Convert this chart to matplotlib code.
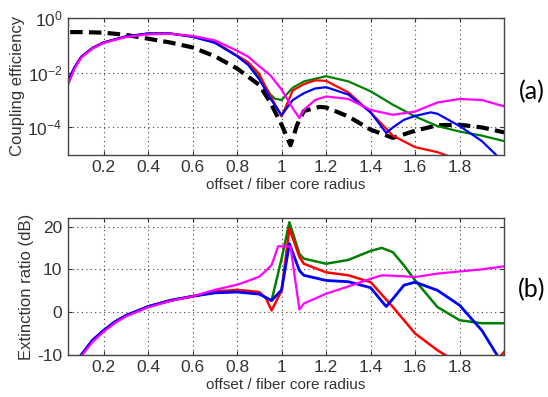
import matplotlib.pyplot as plt
import numpy as np

plt.rcParams['font.family'] = ['Liberation Sans', 'DejaVu Sans']
plt.rcParams['axes.unicode_minus'] = False
plt.rcParams['mathtext.default'] = 'regular'

# (a) coupling efficiency, stored as log10 values
x_blue_a = [0.04, 0.07, 0.1, 0.15, 0.2, 0.3, 0.4, 0.5, 0.6, 0.7, 0.8, 0.85, 0.9, 0.95, 1.0,
            1.05, 1.1, 1.15, 1.2, 1.3, 1.4, 1.47, 1.5, 1.55, 1.6, 1.67, 1.7, 1.8, 1.9, 1.97]
log_blue_a = [-2.3, -1.8, -1.42, -1.1, -0.9, -0.68, -0.57, -0.57, -0.69, -0.91, -1.4, -1.72, -2.25, -2.95, -3.55,
              -3.0, -2.75, -2.58, -2.53, -2.8, -3.45, -4.2, -4.0, -3.72, -3.58, -3.45, -3.5, -3.95, -4.5, -5.05]

x_red_a = [0.04, 0.07, 0.1, 0.15, 0.2, 0.3, 0.4, 0.5, 0.6, 0.7, 0.8, 0.85, 0.9, 0.93, 0.97, 1.0,
           1.05, 1.1, 1.15, 1.2, 1.3, 1.4, 1.5, 1.6, 1.7, 1.75]
log_red_a = [-2.3, -1.8, -1.42, -1.1, -0.9, -0.68, -0.58, -0.58, -0.68, -0.88, -1.38, -1.62, -2.05, -2.55, -3.15, -3.6,
             -2.65, -2.42, -2.28, -2.3, -2.72, -3.45, -4.3, -4.72, -4.9, -5.05]

x_green_a = [0.04, 0.07, 0.1, 0.15, 0.2, 0.3, 0.4, 0.5, 0.6, 0.7, 0.8, 0.85, 0.9, 0.95, 0.97, 1.0,
             1.05, 1.1, 1.2, 1.3, 1.4, 1.5, 1.6, 1.7, 1.8, 1.9, 2.0]
log_green_a = [-2.3, -1.8, -1.42, -1.1, -0.9, -0.68, -0.57, -0.57, -0.69, -0.9, -1.38, -1.65, -2.15, -2.8, -2.95, -3.0,
               -2.55, -2.32, -2.13, -2.32, -2.68, -3.17, -3.6, -3.95, -4.15, -4.3, -4.5]

x_mag_a = [0.04, 0.07, 0.1, 0.15, 0.2, 0.3, 0.4, 0.5, 0.6, 0.7, 0.8, 0.85, 0.9, 0.95, 1.0,
           1.05, 1.08, 1.1, 1.15, 1.2, 1.3, 1.4, 1.5, 1.6, 1.7, 1.8, 1.9, 2.0]
log_mag_a = [-2.45, -1.85, -1.45, -1.12, -0.92, -0.7, -0.6, -0.58, -0.66, -0.82, -1.2, -1.42, -1.77, -2.1, -2.62,
             -3.3, -3.66, -3.36, -3.0, -2.87, -2.96, -3.36, -3.54, -3.42, -3.09, -2.96, -3.0, -3.23]

x_black_a = [0.05, 0.1, 0.2, 0.3, 0.4, 0.5, 0.6, 0.7, 0.8, 0.85, 0.9, 0.95, 1.0, 1.04, 1.07, 1.1,
             1.17, 1.2, 1.3, 1.4, 1.5, 1.6, 1.7, 1.8, 1.9, 2.0]
log_black_a = [-0.52, -0.52, -0.54, -0.62, -0.76, -0.9, -1.08, -1.4, -1.85, -2.15, -2.45, -3.1, -3.9, -4.65, -3.9, -3.4,
               -3.25, -3.27, -3.6, -4.08, -4.38, -4.12, -3.92, -3.9, -4.0, -4.18]

# (b) extinction ratio in dB
x_blue_b = [0.1, 0.15, 0.2, 0.25, 0.3, 0.4, 0.5, 0.6, 0.7, 0.8, 0.9, 0.955, 1.0, 1.035, 1.08, 1.1, 1.2,
            1.3, 1.4, 1.47, 1.5, 1.55, 1.6, 1.7, 1.8, 1.9, 1.97]
er_blue_b = [-10, -6.6, -4.3, -2.3, -0.8, 1.3, 2.7, 3.7, 4.5, 4.7, 4.2, 2.7, 5.2, 16.0, 9.7, 8.6, 7.4,
             7.1, 5.7, 1.3, 3.1, 6.3, 7.0, 5.1, 1.6, -4.3, -10.2]

x_red_b = [0.1, 0.15, 0.2, 0.25, 0.3, 0.4, 0.5, 0.6, 0.7, 0.8, 0.9, 0.93, 0.955, 1.0, 1.035, 1.08, 1.1,
           1.2, 1.3, 1.4, 1.5, 1.6, 1.7, 1.75, 1.98, 2.0]
er_red_b = [-10, -6.6, -4.3, -2.3, -0.8, 1.3, 2.7, 3.7, 4.8, 5.2, 4.7, 3.2, 0.4, 5.0, 19.5, 12.9, 11.3,
            9.3, 8.6, 7.0, 1.2, -5.0, -8.9, -10.5, -10.5, -9.3]

x_green_b = [0.1, 0.15, 0.2, 0.25, 0.3, 0.4, 0.5, 0.6, 0.7, 0.8, 0.9, 0.955, 1.0, 1.035, 1.08, 1.1, 1.2,
             1.3, 1.4, 1.45, 1.5, 1.55, 1.6, 1.7, 1.8, 1.9, 2.0]
er_green_b = [-10, -6.6, -4.3, -2.3, -0.8, 1.3, 2.8, 3.7, 4.6, 4.8, 4.3, 2.7, 12.5, 21.0, 13.6, 12.5, 11.3,
              12.2, 14.3, 15.0, 14.0, 10.9, 7.4, 1.2, -1.9, -2.6, -2.6]

x_mag_b = [0.105, 0.15, 0.2, 0.25, 0.3, 0.4, 0.5, 0.6, 0.7, 0.8, 0.85, 0.9, 0.93, 0.955, 0.985, 1.04, 1.08,
           1.1, 1.2, 1.3, 1.4, 1.45, 1.5, 1.6, 1.7, 1.8, 1.9, 2.0]
er_mag_b = [-10, -7.0, -4.6, -2.6, -1.0, 1.1, 2.6, 3.7, 5.2, 6.4, 7.3, 8.3, 9.7, 11.0, 15.4, 15.3, 0.6,
            2.0, 4.3, 6.0, 7.8, 8.6, 8.5, 8.2, 9.0, 9.5, 10.0, 10.7]

xticks = [0.2, 0.4, 0.6, 0.8, 1.0, 1.2, 1.4, 1.6, 1.8]
xticklabels = ['0.2', '0.4', '0.6', '0.8', '1', '1.2', '1.4', '1.6', '1.8']


def style(ax):
    ax.set_xlim(0.04, 2.0)
    ax.set_xticks(xticks)
    ax.set_xticklabels(xticklabels)
    ax.grid(True, linestyle=(0, (1, 3)), color='#444444', linewidth=0.8)
    ax.tick_params(direction='in', top=True, right=True, length=3, labelsize=12.5,
                   colors='#333333', pad=4)
    for s in ax.spines.values():
        s.set_color('#444444')
        s.set_linewidth(1.0)
    ax.set_xlabel('offset / fiber core radius', fontsize=11, color='#333333', labelpad=2)


fig = plt.figure(figsize=(5.48, 3.97), dpi=100)
axa = fig.add_axes([0.124, 0.61, 0.796, 0.345])
axb = fig.add_axes([0.124, 0.106, 0.796, 0.345])

axa.plot(x_black_a, 10 ** np.array(log_black_a), 'k--', lw=3, dashes=(3, 1.5))
axa.plot(x_green_a, 10 ** np.array(log_green_a), color='#008000', lw=1.6)
axa.plot(x_red_a, 10 ** np.array(log_red_a), color='red', lw=1.6)
axa.plot(x_blue_a, 10 ** np.array(log_blue_a), color='blue', lw=1.6)
axa.plot(x_mag_a, 10 ** np.array(log_mag_a), color='magenta', lw=1.6)
axa.set_yscale('log')
axa.set_ylim(1e-5, 1)
axa.set_yticks([1e-4, 1e-2, 1])
axa.yaxis.set_minor_locator(plt.NullLocator())
style(axa)
axa.set_ylabel('Coupling efficiency', fontsize=12, color='#333333', labelpad=2)

axb.plot(x_green_b, er_green_b, color='#008000', lw=1.8)
axb.plot(x_red_b, er_red_b, color='red', lw=1.8)
axb.plot(x_blue_b, er_blue_b, color='blue', lw=2.0)
axb.plot(x_mag_b, er_mag_b, color='magenta', lw=1.6)
axb.set_ylim(-10, 22)
axb.set_yticks([-10, 0, 10, 20])
style(axb)
axb.set_ylabel('Extinction ratio (dB)', fontsize=12, color='#333333', labelpad=2)

fig.text(0.97, 0.77, '(a)', fontsize=18, family=['Lato', 'DejaVu Sans'], ha='center', va='center')
fig.text(0.97, 0.27, '(b)', fontsize=18, family=['Lato', 'DejaVu Sans'], ha='center', va='center')

plt.savefig('out.png', dpi=100)
